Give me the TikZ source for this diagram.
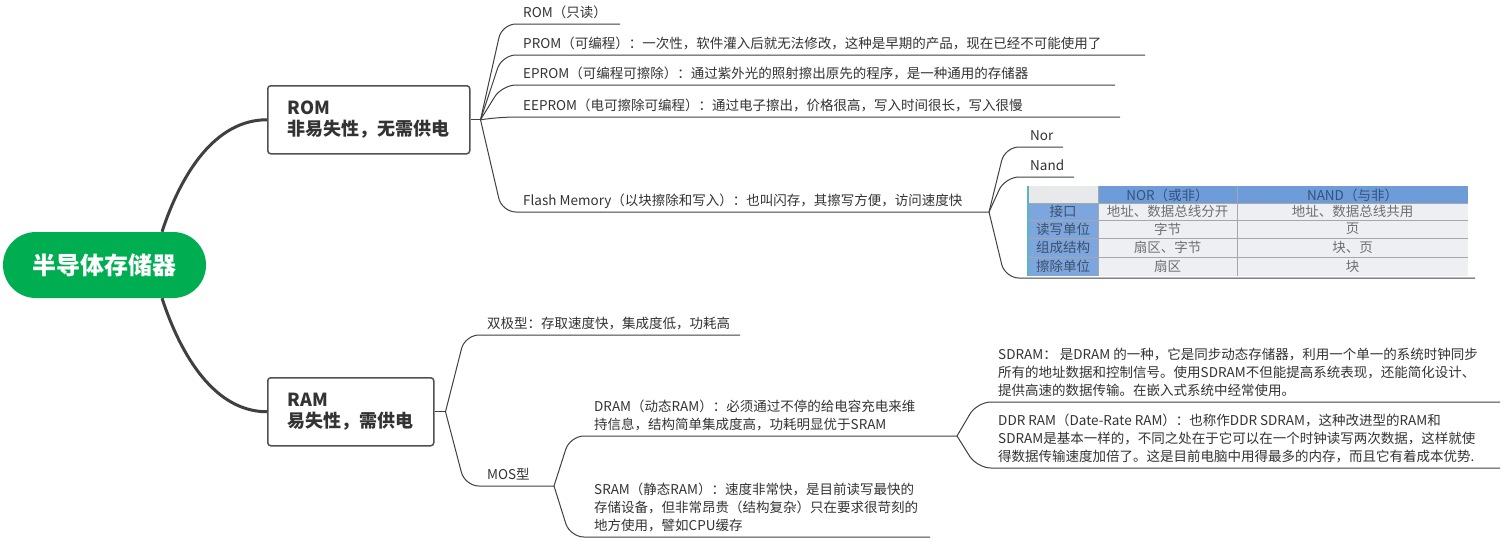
\documentclass[tikz,border=0pt]{standalone}
\usepackage{fontspec}
\setmainfont{Noto Sans CJK SC}
\usepackage{tikz}
\usetikzlibrary{positioning}
\definecolor{memgreen}{HTML}{00AE52}
\definecolor{ink}{HTML}{333333}
\definecolor{wire}{HTML}{404040}
\definecolor{frame}{HTML}{505050}
\definecolor{cellbg}{HTML}{EDEFF2}
\definecolor{cornercell}{HTML}{E8E9EB}
\definecolor{headblue}{HTML}{6E9CD8}
\definecolor{keyblue}{HTML}{7EA6DE}
\definecolor{headtext}{HTML}{34527F}
\definecolor{keytext}{HTML}{3D5068}
\definecolor{celltext}{HTML}{6E6E6E}
\definecolor{gridline}{HTML}{A3A8AF}
\definecolor{edge}{HTML}{5FB5BE}
\newcommand\leaffont{\fontsize{13.5}{18}\selectfont}
\newcommand\cellfont{\fontsize{13.5}{15}\selectfont}
\tikzset{
  root/.style={fill=memgreen, text=white, rounded corners=32.9pt, minimum width=203pt,
               minimum height=66pt, inner sep=0pt, font=\fontsize{24}{28}\selectfont\bfseries},
  topic/.style={draw=frame, fill=white, line width=1.5pt, rounded corners=3pt, anchor=north west,
                align=left, inner xsep=20pt, minimum height=68pt, text=ink,
                font=\fontsize{18}{21}\selectfont\bfseries},
  leaf/.style={anchor=south west, align=left, inner ysep=4pt, text depth=2pt, text=ink, font=\leaffont},
  trunk/.style={draw=wire, line width=3pt},
  twig/.style={draw=wire, line width=1pt, rounded corners=14pt},
  cell/.style={inner sep=0pt, font=\cellfont}
}
\begin{document}
\begin{tikzpicture}[x=1pt,y=-1pt]
  \fill[white] (0,0) rectangle (1503,538);
  \useasboundingbox (0,0) rectangle (1503,538);

  % centre and main topics
  \node[root] (mem) at (104.5,265) {半导体存储器};
  \node[topic] (rom) at (267,85) {ROM\\非易失性，无需供电};
  \node[topic] (ram) at (267,377) {RAM\\易失性，需供电};
  \draw[trunk] (mem.30) .. controls +(19,-58) and +(-52,0) .. (rom.west);
  \draw[trunk] (mem.-30) .. controls +(19,58) and +(-52,0) .. (ram.west);

  % ROM side
  \coordinate[right=10pt of rom.east] (romb);
  \draw[twig] (rom.east) -- (romb);
  \node[leaf, inner xsep=21pt] (rom1) at (502,24) {ROM（只读）};
  \node[leaf, inner xsep=21pt] (prom) at (502,55) {PROM（可编程）：一次性，软件灌入后就无法修改，这种是早期的产品，现在已经不可能使用了};
  \node[leaf, inner xsep=21pt] (eprom) at (502,85) {EPROM（可编程可擦除）：通过紫外光的照射擦出原先的程序，是一种通用的存储器};
  \node[leaf, inner xsep=21pt] (eeprom) at (502,117) {EEPROM（电可擦除可编程）：通过电子擦出，价格很高，写入时间很长，写入很慢};
  \node[leaf, inner xsep=21pt] (flash) at (502,212) {Flash Memory（以块擦除和写入）：也叫闪存，其擦写方便，访问速度快};
  \coordinate (rom1-e) at (620,24);
  \coordinate (prom-e) at (1145,55);
  \coordinate (eprom-e) at (1115,85);
  \coordinate (eeprom-e) at (1120,117);
  \coordinate (flash-e) at (989,212);
  \foreach \n in {rom1,prom,eprom,eeprom,flash}
    \draw[twig] (romb) -- (\n.south west) -- (\n-e);

  \node[leaf, inner xsep=25pt] (nor) at (1005,147) {Nor};
  \node[leaf, inner xsep=25pt] (nand) at (1005,177) {Nand};
  \node[anchor=south west, minimum width=470pt, minimum height=92pt, inner sep=0pt] (tbl) at (1005,278) {};
  \coordinate (nor-e) at (1063,147);
  \coordinate (nand-e) at (1074,177);
  \coordinate (tbl-e) at (1475,278);
  \foreach \n in {nor,nand,tbl}
    \draw[twig] (flash-e) -- (\n.south west) -- (\n-e);

  % NOR / NAND table
  \fill[cellbg] (1028,186) rectangle (1468,276);
  \fill[headblue] (1098,186) rectangle (1468,203);
  \fill[cornercell] (1028,186) rectangle (1098,203);
  \fill[keyblue] (1028,203) rectangle (1098,276);
  \foreach \y in {203,220,238,257}
    \draw[gridline, line width=0.8pt] (1028,\y) -- (1468,\y);
  \foreach \x in {1098,1237}
    \draw[gridline, line width=0.8pt] (\x,186) -- (\x,276);
  \draw[edge, line width=1.5pt] (1028,186) -- (1028,276);
  \node[cell, text=headtext] (hnor) at (1167.5,195) {NOR（或非）};
  \node[cell, text=headtext] (hnand) at (1352.5,195) {NAND（与非）};
  \foreach \y/\k/\a/\b [count=\i] in {211.5/接口/地址、数据总线分开/地址、数据总线共用,
      229/读写单位/字节/页, 247.5/组成结构/扇区、字节/块、页, 266.5/擦除单位/扇区/块} {
    \node[cell, text=keytext] (k\i) at (1063,\y) {\k};
    \node[cell, text=celltext] (a\i) at (1167.5,\y) {\a};
    \node[cell, text=celltext] (b\i) at (1352.5,\y) {\b};
  }

  % RAM side
  \coordinate[right=11pt of ram.east] (ramb);
  \draw[twig] (ram.east) -- (ramb);
  \node[leaf, inner xsep=22pt] (bip) at (465,335) {双极型：存取速度快，集成度低，功耗高};
  \node[leaf, inner xsep=22pt] (mos) at (465,486) {MOS型};
  \coordinate (bip-e) at (740,335);
  \coordinate (mos-e) at (554,486);
  \foreach \n in {bip,mos}
    \draw[twig] (ramb) -- (\n.south west) -- (\n-e);

  \node[leaf, inner xsep=24pt] (dram) at (570,436) {DRAM（动态RAM）：必须通过不停的给电容充电来维\\持信息，结构简单集成度高，功耗明显优于SRAM};
  \node[leaf, inner xsep=24pt] (sram) at (570,537) {SRAM（静态RAM）：速度非常快，是目前读写最快的\\存储设备，但非常昂贵（结构复杂）只在要求很苛刻的\\地方使用，譬如CPU缓存};
  \coordinate (dram-e) at (957,436);
  \coordinate (sram-e) at (930,537);
  \foreach \n in {dram,sram}
    \draw[twig] (mos-e) -- (\n.south west) -- (\n-e);

  \node[leaf, inner xsep=21pt] (sdram) at (977,402) {SDRAM： 是DRAM 的一种，它是同步动态存储器，利用一个单一的系统时钟同步\\所有的地址数据和控制信号。使用SDRAM不但能提高系统表现，还能简化设计、\\提供高速的数据传输。在嵌入式系统中经常使用。};
  \node[leaf, inner xsep=21pt] (ddr) at (977,468) {DDR RAM（Date-Rate RAM）：也称作DDR SDRAM，这种改进型的RAM和\\SDRAM是基本一样的，不同之处在于它可以在一个时钟读写两次数据，这样就使\\得数据传输速度加倍了。这是目前电脑中用得最多的内存，而且它有着成本优势.};
  \coordinate (sdram-e) at (1500,402);
  \coordinate (ddr-e) at (1500,468);
  \foreach \n in {sdram,ddr}
    \draw[twig] (dram-e) -- (\n.south west) -- (\n-e);
\end{tikzpicture}
\end{document}
